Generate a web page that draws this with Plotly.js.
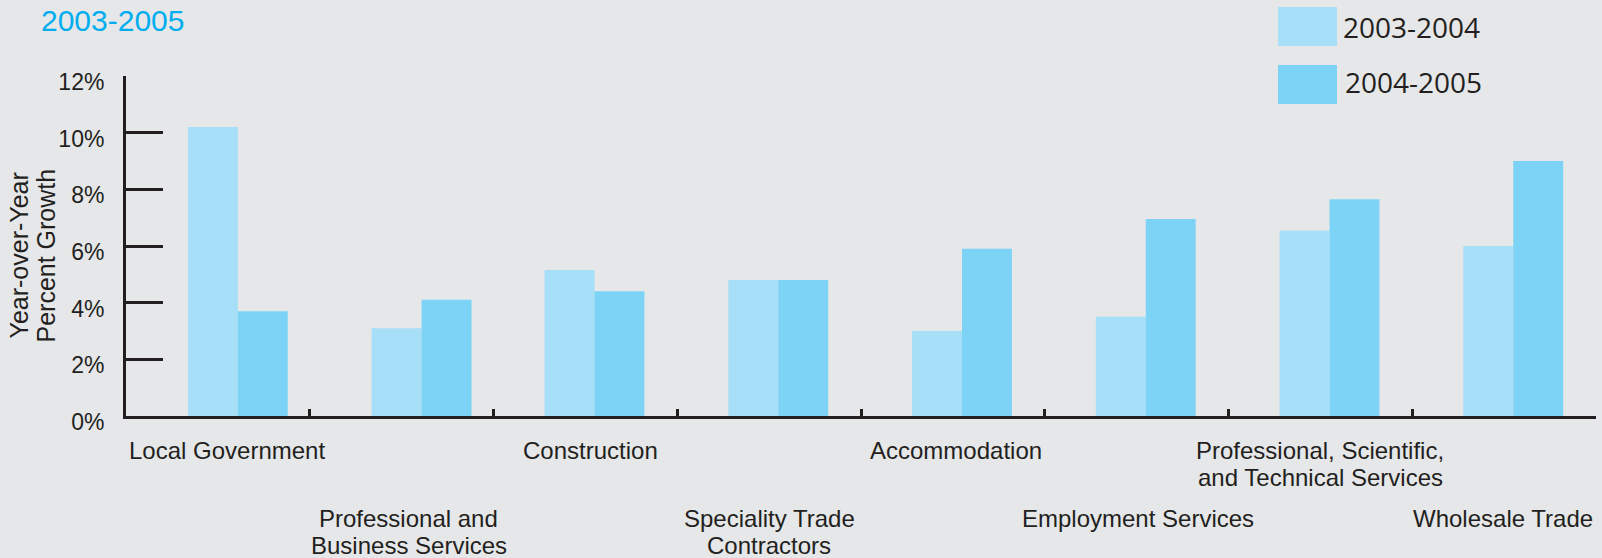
<!DOCTYPE html>
<html>
<head>
<meta charset="utf-8">
<script src="https://cdn.plot.ly/plotly-3.0.1.min.js"></script>
<style>
  html, body { margin: 0; padding: 0; background: #e6e7e9; }
  #chart { width: 1602px; height: 558px; }
</style>
</head>
<body>
<div id="chart"></div>
<script>
// ---- data ----
const categories = [
  'Local Government',
  'Professional and<br>Business Services',
  'Construction',
  'Speciality Trade<br>Contractors',
  'Accommodation',
  'Employment Services',
  'Professional, Scientific,<br>and Technical Services',
  'Wholesale Trade'
];
const seriesNames = ['2003-2004', '2004-2005'];
const growth2003_2004 = [10.2, 3.1, 5.15, 4.8, 3.0, 3.5, 6.55, 6.0];
const growth2004_2005 = [3.7, 4.1, 4.4, 4.8, 5.9, 6.95, 7.65, 9.0];
const yTickValues = [0, 2, 4, 6, 8, 10, 12];
const yTickLabels = ['0%', '2%', '4%', '6%', '8%', '10%', '12%'];
const subtitle = '2003-2005';
const yTitle = 'Year-over-Year<br>Percent Growth';

// ---- styling ----
const BG = '#e6e7e9';
const INK = '#231f20';
const COLORS = ['#a6dff7', '#7dd3f5'];
const W = 1602, H = 558;
const L = 126, R = 1596, T = 76, B = 416;
const px2x = p => (p - L) / (R - L);
const py2y = p => (B - p) / (B - T);

const barW = 0.2717;
const lightOffsets = categories.map((c, i) => (i < 2 ? -0.163 : -0.222));
const darkOffsets = lightOffsets.map(o => o + barW);
const labelShift = [9, 7, 5, 0, 3, 1, 0, -1];
const xIdx = categories.map((c, i) => i);

const traces = [
  {
    type: 'bar', name: seriesNames[0], x: xIdx, y: growth2003_2004,
    width: barW, offset: lightOffsets,
    marker: { color: COLORS[0], line: { width: 0 } },
    showlegend: false, hoverinfo: 'y'
  },
  {
    type: 'bar', name: seriesNames[1], x: xIdx, y: growth2004_2005,
    width: barW, offset: darkOffsets,
    marker: { color: COLORS[1], line: { width: 0 } },
    showlegend: false, hoverinfo: 'y'
  }
];

const FONT = 'Liberation Sans, Arial, sans-serif';
const labelFont = { family: FONT, size: 24, color: INK };
const annotations = [];
categories.forEach((cat, i) => {
  const lines = cat.split('<br>');
  const base = (i % 2 === 0) ? 450 : 518;
  lines.forEach((ln, j) => {
    annotations.push({
      xref: 'x', yref: 'paper', x: i, y: py2y(base + j * 27.5), xshift: labelShift[i],
      text: ln, showarrow: false, xanchor: 'center', yanchor: 'middle',
      font: labelFont
    });
  });
});
// y-axis title (two lines, tight spacing)
yTitle.split('<br>').forEach((ln, j) => {
  annotations.push({
    xref: 'paper', yref: 'paper', x: px2x(18.5 + j * 27), y: py2y(256),
    text: ln, textangle: -90, showarrow: false,
    xanchor: 'center', yanchor: 'middle',
    font: { family: FONT, size: 25, color: INK }
  });
});
// legend
const legendRows = [{ top: 7, bottom: 46, textY: 27, textX: 1341 }, { top: 65, bottom: 104, textY: 82, textX: 1343 }];
const shapes = [];
seriesNames.forEach((nm, k) => {
  const r = legendRows[k];
  shapes.push({
    type: 'rect', xref: 'paper', yref: 'paper',
    x0: px2x(1278), x1: px2x(1337), y0: py2y(r.bottom), y1: py2y(r.top),
    fillcolor: COLORS[k], line: { width: 0 }
  });
  annotations.push({
    xref: 'paper', yref: 'paper', x: px2x(r.textX), y: py2y(r.textY),
    text: nm, showarrow: false, xanchor: 'left', yanchor: 'middle',
    font: { family: 'Open Sans, Noto Sans, sans-serif', size: 28, color: INK }
  });
});

const layout = {
  width: W, height: H,
  paper_bgcolor: BG, plot_bgcolor: BG,
  margin: { l: L, r: W - R, t: T, b: H - B, pad: 0 },
  barmode: 'overlay',
  title: {
    text: subtitle, x: 41 / W, xanchor: 'left', xref: 'container',
    y: 1 - 20 / H, yanchor: 'middle', yref: 'container',
    font: { family: FONT, size: 30, color: '#00aeef' }
  },
  xaxis: {
    type: 'linear', range: [-0.5, categories.length - 0.5],
    tickmode: 'array', tickvals: categories.map((c, i) => i + 0.5).concat([-0.5]),
    ticks: 'inside', ticklen: 7, tickwidth: 3, tickcolor: INK,
    showticklabels: false, showgrid: false, zeroline: false,
    showline: true, linecolor: INK, linewidth: 3, fixedrange: true
  },
  yaxis: {
    range: [0, 12], tickmode: 'array', tickvals: yTickValues, ticktext: yTickLabels,
    ticks: 'inside', ticklen: 37, tickwidth: 3, tickcolor: INK,
    ticklabelstandoff: 14, ticklabelshift: 6,
    tickfont: { family: FONT, size: 23, color: INK },
    showgrid: false, zeroline: false,
    showline: true, linecolor: INK, linewidth: 3, fixedrange: true
  },
  shapes: shapes,
  annotations: annotations,
  showlegend: false
};

Plotly.newPlot('chart', traces, layout, { displayModeBar: false, staticPlot: true });
</script>
</body>
</html>
